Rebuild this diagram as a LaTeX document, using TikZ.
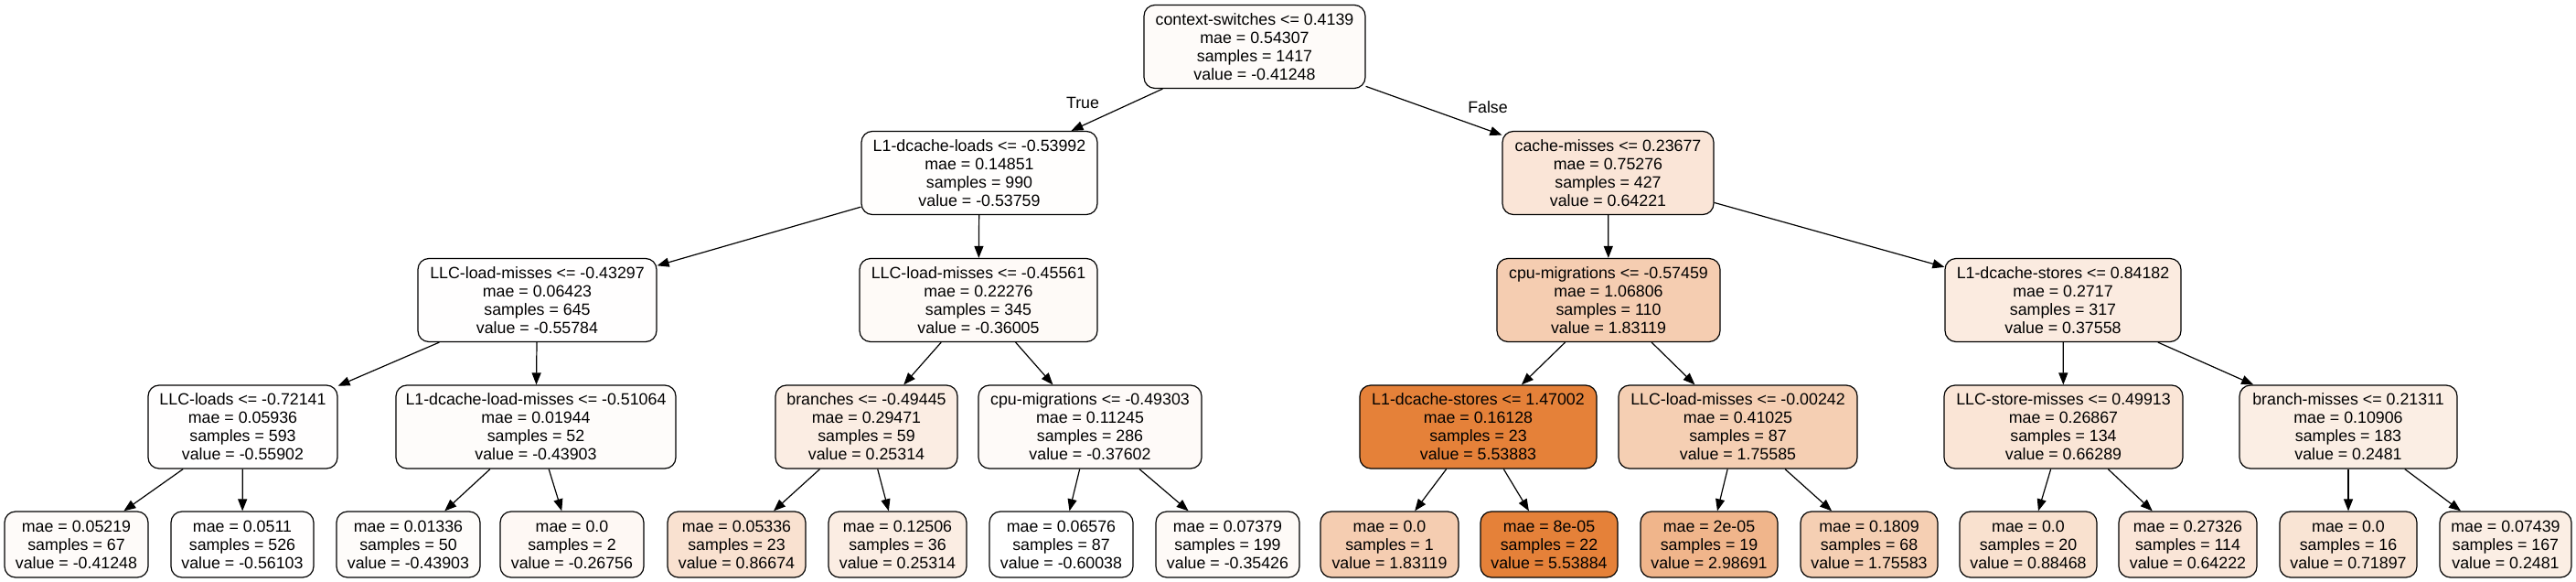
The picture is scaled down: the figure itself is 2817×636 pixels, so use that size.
\documentclass[tikz,border=0pt]{standalone}
\usepackage{fontspec}
\setmainfont{Liberation Sans}
\usetikzlibrary{arrows.meta}
\definecolor{dtor}{RGB}{229,129,57}
\begin{document}
\begin{tikzpicture}[x=0.5pt,y=-0.5pt,
  tbox/.style={draw=black, line width=0.6pt, rounded corners=6pt, inner sep=0pt,
    align=center, font=\fontsize{8.9}{10}\selectfont, minimum height=45.5pt},
  leaf/.style={tbox, minimum height=36pt},
  edge/.style={draw=black, line width=0.6pt, -{Triangle[length=6.5pt,width=5pt]}},
  elabel/.style={font=\fontsize{8.9}{10}\selectfont, inner sep=0pt}]
\fill[white] (0,0) rectangle (2817,636);
\useasboundingbox (0,0) rectangle (2817,636);
% level 0
\node[tbox, fill=dtor!3.06!white, minimum width=121pt] (n0) at (1372,51) {context-switches <= 0.4139\\mae = 0.54307\\samples = 1417\\value = -0.41248};
% level 1
\node[tbox, fill=dtor!1.02!white, minimum width=129pt] (n1) at (1071,189) {L1-dcache-loads <= -0.53992\\mae = 0.14851\\samples = 990\\value = -0.53759};
\node[tbox, fill=dtor!20.24!white, minimum width=115.5pt] (n2) at (1758.5,189) {cache-misses <= 0.23677\\mae = 0.75276\\samples = 427\\value = 0.64221};
% level 2
\node[tbox, fill=dtor!0.69!white, minimum width=130.5pt] (n3) at (587.5,328) {LLC-load-misses <= -0.43297\\mae = 0.06423\\samples = 645\\value = -0.55784};
\node[tbox, fill=dtor!3.91!white, minimum width=130pt] (n4) at (1070,328) {LLC-load-misses <= -0.45561\\mae = 0.22276\\samples = 345\\value = -0.36005};
\node[tbox, fill=dtor!39.61!white, minimum width=122pt] (n5) at (1759,328) {cpu-migrations <= -0.57459\\mae = 1.06806\\samples = 110\\value = 1.83119};
\node[tbox, fill=dtor!15.90!white, minimum width=129pt] (n6) at (2256,328) {L1-dcache-stores <= 0.84182\\mae = 0.2717\\samples = 317\\value = 0.37558};
% level 3
\node[tbox, fill=dtor!0.67!white, minimum width=103.5pt] (n7) at (265.5,466.5) {LLC-loads <= -0.72141\\mae = 0.05936\\samples = 593\\value = -0.55902};
\node[tbox, fill=dtor!2.63!white, minimum width=153pt] (n8) at (586,466.5) {L1-dcache-load-misses <= -0.51064\\mae = 0.01944\\samples = 52\\value = -0.43903};
\node[tbox, fill=dtor!13.90!white, minimum width=99.5pt] (n9) at (947.5,466.5) {branches <= -0.49445\\mae = 0.29471\\samples = 59\\value = 0.25314};
\node[tbox, fill=dtor!3.65!white, minimum width=122pt] (n10) at (1192,466.5) {cpu-migrations <= -0.49303\\mae = 0.11245\\samples = 286\\value = -0.37602};
\node[tbox, fill=dtor!100!white, minimum width=129.5pt] (n11) at (1616.5,466.5) {L1-dcache-stores <= 1.47002\\mae = 0.16128\\samples = 23\\value = 5.53883};
\node[tbox, fill=dtor!38.38!white, minimum width=130.5pt] (n12) at (1900.5,466.5) {LLC-load-misses <= -0.00242\\mae = 0.41025\\samples = 87\\value = 1.75585};
\node[tbox, fill=dtor!20.58!white, minimum width=130.5pt] (n13) at (2256.5,466.5) {LLC-store-misses <= 0.49913\\mae = 0.26867\\samples = 134\\value = 0.66289};
\node[tbox, fill=dtor!13.82!white, minimum width=119pt] (n14) at (2568,466.5) {branch-misses <= 0.21311\\mae = 0.10906\\samples = 183\\value = 0.2481};
% leaves
\node[leaf, fill=dtor!3.06!white, minimum width=78.5pt] (l1) at (83.5,595) {mae = 0.05219\\samples = 67\\value = -0.41248};
\node[leaf, fill=dtor!0.64!white, minimum width=78pt] (l2) at (265,595) {mae = 0.0511\\samples = 526\\value = -0.56103};
\node[leaf, fill=dtor!2.63!white, minimum width=78.5pt] (l3) at (446.5,595) {mae = 0.01336\\samples = 50\\value = -0.43903};
\node[leaf, fill=dtor!5.42!white, minimum width=78.5pt] (l4) at (625.5,595) {mae = 0.0\\samples = 2\\value = -0.26756};
\node[leaf, fill=dtor!23.90!white, minimum width=75.5pt] (l5) at (805.5,595) {mae = 0.05336\\samples = 23\\value = 0.86674};
\node[leaf, fill=dtor!13.90!white, minimum width=75.5pt] (l6) at (981.5,595) {mae = 0.12506\\samples = 36\\value = 0.25314};
\node[leaf, fill=white, minimum width=78.5pt] (l7) at (1160.5,595) {mae = 0.06576\\samples = 87\\value = -0.60038};
\node[leaf, fill=dtor!4.01!white, minimum width=78.5pt] (l8) at (1342.5,595) {mae = 0.07379\\samples = 199\\value = -0.35426};
\node[leaf, fill=dtor!39.61!white, minimum width=75.5pt] (l9) at (1519.5,595) {mae = 0.0\\samples = 1\\value = 1.83119};
\node[leaf, fill=dtor!100!white, minimum width=75pt] (l10) at (1694,595) {mae = 8e-05\\samples = 22\\value = 5.53884};
\node[leaf, fill=dtor!58.43!white, minimum width=75pt] (l11) at (1869,595) {mae = 2e-05\\samples = 19\\value = 2.98691};
\node[leaf, fill=dtor!38.38!white, minimum width=75pt] (l12) at (2044,595) {mae = 0.1809\\samples = 68\\value = 1.75583};
\node[leaf, fill=dtor!24.19!white, minimum width=75pt] (l13) at (2218,595) {mae = 0.0\\samples = 20\\value = 0.88468};
\node[leaf, fill=dtor!20.24!white, minimum width=75.5pt] (l14) at (2392.5,595) {mae = 0.27326\\samples = 114\\value = 0.64222};
\node[leaf, fill=dtor!21.49!white, minimum width=75pt] (l15) at (2568,595) {mae = 0.0\\samples = 16\\value = 0.71897};
\node[leaf, fill=dtor!13.82!white, minimum width=72pt] (l16) at (2740,595) {mae = 0.07439\\samples = 167\\value = 0.2481};
% edges
\draw[edge] (n0) -- (n1);
\draw[edge] (n0) -- (n2);
\draw[edge] (n1) -- (n3);
\draw[edge] (n1) -- (n4);
\draw[edge] (n2) -- (n5);
\draw[edge] (n2) -- (n6);
\draw[edge] (n3) -- (n7);
\draw[edge] (n3) -- (n8);
\draw[edge] (n4) -- (n9);
\draw[edge] (n4) -- (n10);
\draw[edge] (n5) -- (n11);
\draw[edge] (n5) -- (n12);
\draw[edge] (n6) -- (n13);
\draw[edge] (n6) -- (n14);
\draw[edge] (n7) -- (l1);
\draw[edge] (n7) -- (l2);
\draw[edge] (n8) -- (l3);
\draw[edge] (n8) -- (l4);
\draw[edge] (n9) -- (l5);
\draw[edge] (n9) -- (l6);
\draw[edge] (n10) -- (l7);
\draw[edge] (n10) -- (l8);
\draw[edge] (n11) -- (l9);
\draw[edge] (n11) -- (l10);
\draw[edge] (n12) -- (l11);
\draw[edge] (n12) -- (l12);
\draw[edge] (n13) -- (l13);
\draw[edge] (n13) -- (l14);
\draw[edge] (n14) -- (l15);
\draw[edge] (n14) -- (l16);
% edge labels
\node[elabel] (tlab) at (1184,112) {True};
\node[elabel] (flab) at (1627,117) {False};
\end{tikzpicture}
\end{document}
